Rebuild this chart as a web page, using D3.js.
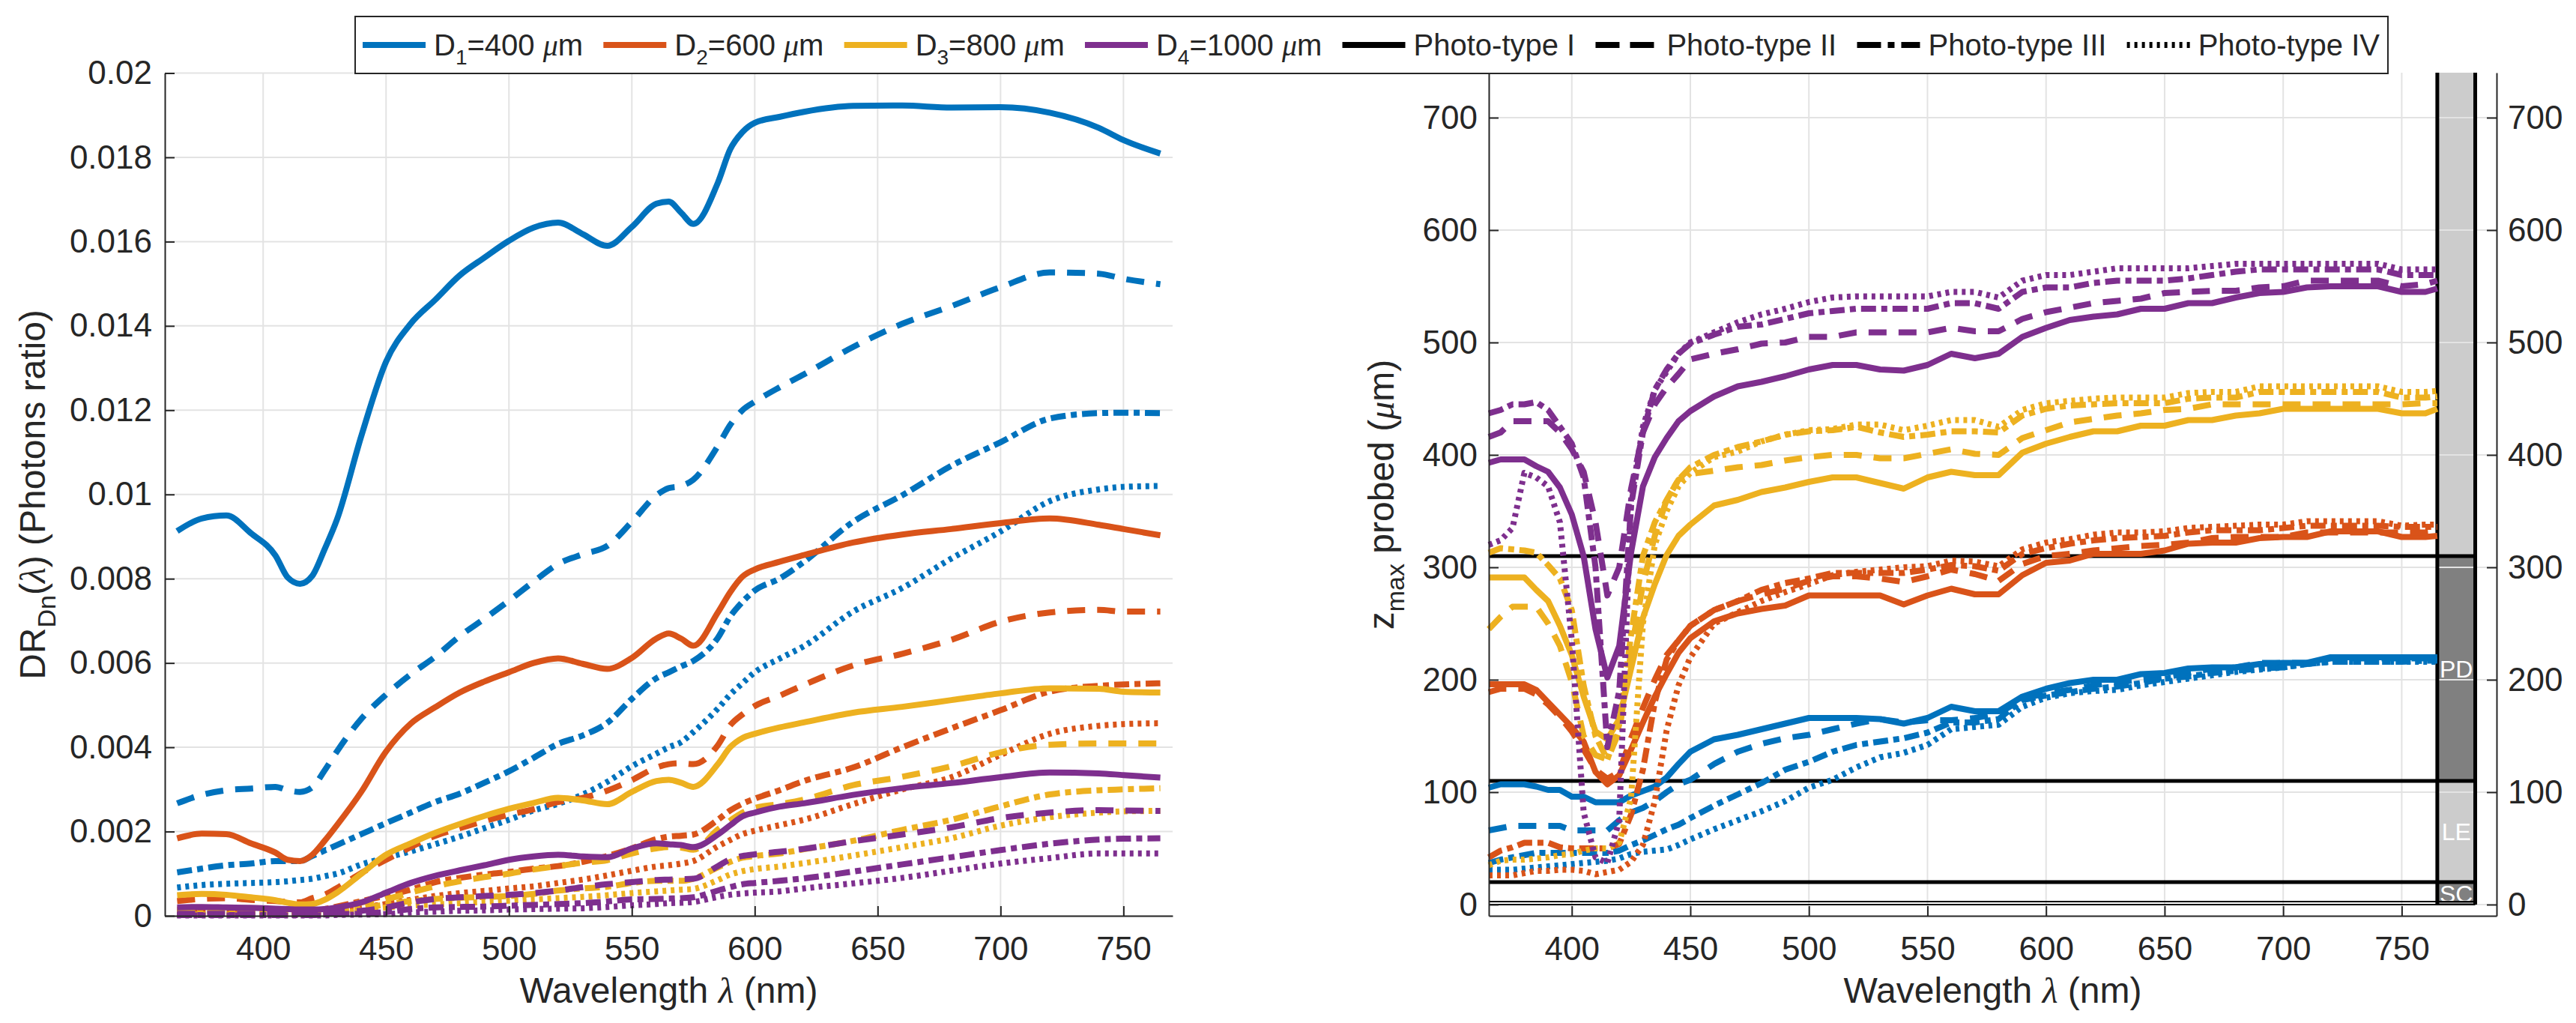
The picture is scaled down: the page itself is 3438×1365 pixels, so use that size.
<!DOCTYPE html>
<html><head><meta charset="utf-8">
<script src="https://cdn.jsdelivr.net/npm/d3@7"></script>
<style>
body{margin:0;background:#fff}
svg{display:block}
text{font-family:"Liberation Sans",Arial,Helvetica,sans-serif;fill:#262626}
</style>
</head><body>
<svg id="chart" width="3438" height="1365"></svg>
<script>
// ---------------- DATA ----------------
const xTicks = [400,450,500,550,600,650,700,750];
const yTicksL = [0,0.002,0.004,0.006,0.008,0.01,0.012,0.014,0.016,0.018,0.02];
const yTicksR = [0,100,200,300,400,500,600,700];
const diameters = [400,600,800,1000];
const photoTypes = ["Photo-type I","Photo-type II","Photo-type III","Photo-type IV"];
const zoneBounds = [0,20,110,310,740];
const zoneLabels = ["SC","LE","PD",""];

// wavelengths (nm), left panel
const WL_L = [365,375,385,395,405,410,415,420,425,430,440,450,460,470,480,490,500,510,520,530,540,550,560,565,570,575,585,590,595,600,610,620,640,660,680,700,720,740,750,765];
// DR_Dn(lambda), photon ratio
const drD1_I   = [.00913,.00943,.00950,.00908,.00855,.00803,.00788,.00807,.00870,.00940,.01140,.01315,.01405,.01462,.01520,.01562,.01602,.01633,.01645,.01618,.01590,.01635,.01690,.01695,.01669,.01642,.01740,.01819,.01860,.01882,.01896,.01908,.01922,.01923,.01918,.01919,.01906,.01870,.01841,.01809];
const drD1_II  = [.00267,.00287,.00298,.00302,.00306,.00298,.00294,.00305,.00345,.00390,.00468,.00525,.00573,.00615,.00664,.00705,.00748,.00793,.00835,.00858,.00878,.00935,.00998,.01015,.01020,.01035,.01115,.01165,.01200,.01220,.01254,.01285,.01350,.01405,.01447,.01492,.01527,.01524,.01512,.01499];
const drD1_III = [.00103,.00112,.00120,.00124,.00130,.00130,.00130,.00142,.00155,.00168,.00194,.00220,.00245,.00270,.00290,.00316,.00343,.00375,.00408,.00428,.00458,.00515,.00564,.00578,.00592,.00605,.00660,.00710,.00745,.00772,.00800,.00840,.00935,.00998,.01068,.01124,.01180,.01193,.01194,.01193];
const drD1_IV  = [.00067,.00073,.00076,.00078,.00080,.00082,.00085,.00088,.00094,.00100,.00122,.00138,.00153,.00170,.00188,.00208,.00228,.00250,.00266,.00288,.00318,.00355,.00385,.00400,.00412,.00436,.00492,.00525,.00552,.00578,.00610,.00640,.00722,.00778,.00848,.00912,.00984,.01012,.01018,.01020];
const drD2_I   = [.00184,.00195,.00194,.00172,.00150,.00133,.00130,.00145,.00178,.00215,.00295,.00390,.00456,.00495,.00530,.00556,.00578,.00600,.00611,.00598,.00586,.00612,.00658,.00670,.00658,.00641,.00720,.00768,.00805,.00822,.00840,.00856,.00886,.00905,.00918,.00932,.00943,.00928,.00918,.00903];
const drD2_II  = [.00035,.00040,.00042,.00038,.00035,.00033,.00032,.00042,.00050,.00066,.00102,.00133,.00163,.00190,.00208,.00225,.00240,.00253,.00270,.00280,.00297,.00322,.00352,.00360,.00362,.00360,.00405,.00452,.00478,.00498,.00522,.00548,.00594,.00622,.00655,.00698,.00720,.00726,.00722,.00722];
const drD2_III = [.00015,.00015,.00014,.00012,.00010,.00010,.00010,.00012,.00016,.00022,.00035,.00048,.00062,.00080,.00090,.00098,.00104,.00112,.00118,.00128,.00142,.00160,.00182,.00188,.00190,.00193,.00228,.00250,.00266,.00278,.00298,.00320,.00352,.00400,.00445,.00488,.00532,.00546,.00549,.00552];
const drD2_IV  = [.00008,.00008,.00008,.00007,.00006,.00006,.00006,.00008,.00010,.00013,.00020,.00028,.00038,.00047,.00054,.00059,.00065,.00070,.00078,.00086,.00096,.00107,.00117,.00120,.00124,.00130,.00165,.00180,.00194,.00202,.00215,.00228,.00265,.00300,.00329,.00382,.00432,.00451,.00455,.00457];
const drD3_I   = [.00049,.00052,.00050,.00044,.00037,.00031,.00027,.00028,.00038,.00055,.00100,.00145,.00172,.00197,.00218,.00237,.00254,.00268,.00280,.00274,.00265,.00294,.00320,.00323,.00316,.00306,.00360,.00400,.00422,.00432,.00447,.00459,.00482,.00496,.00512,.00528,.00540,.00539,.00532,.00530];
const drD3_II  = [.00012,.00012,.00011,.00010,.00008,.00007,.00007,.00008,.00012,.00018,.00032,.00040,.00055,.00070,.00082,.00092,.00100,.00110,.00118,.00126,.00132,.00148,.00160,.00163,.00162,.00157,.00205,.00226,.00245,.00256,.00265,.00276,.00310,.00330,.00355,.00388,.00406,.00409,.00409,.00409];
const drD3_III = [.00006,.00006,.00005,.00005,.00004,.00004,.00004,.00005,.00007,.00010,.00018,.00027,.00035,.00040,.00043,.00045,.00047,.00052,.00060,.00065,.00069,.00078,.00083,.00083,.00083,.00088,.00115,.00128,.00138,.00142,.00148,.00158,.00178,.00204,.00228,.00260,.00288,.00298,.00300,.00303];
const drD3_IV  = [.00003,.00003,.00003,.00003,.00003,.00003,.00003,.00004,.00005,.00006,.00013,.00020,.00024,.00027,.00030,.00033,.00036,.00039,.00042,.00045,.00049,.00054,.00058,.00060,.00062,.00064,.00085,.00098,.00106,.00111,.00117,.00125,.00143,.00163,.00184,.00214,.00234,.00245,.00248,.00249];
const drD4_I   = [.00020,.00021,.00020,.00019,.00017,.00016,.00015,.00015,.00016,.00020,.00032,.00055,.00078,.00095,.00108,.00120,.00133,.00141,.00145,.00141,.00139,.00160,.00172,.00170,.00168,.00163,.00193,.00215,.00236,.00245,.00259,.00267,.00287,.00303,.00315,.00329,.00340,.00338,.00334,.00328];
const drD4_II  = [.00005,.00005,.00005,.00005,.00005,.00005,.00005,.00005,.00006,.00008,.00012,.00020,.00032,.00040,.00044,.00047,.00050,.00054,.00060,.00068,.00075,.00080,.00085,.00086,.00087,.00088,.00118,.00134,.00142,.00146,.00152,.00159,.00177,.00193,.00210,.00232,.00245,.00251,.00250,.00249];
const drD4_III = [.00002,.00002,.00002,.00002,.00002,.00002,.00002,.00002,.00003,.00004,.00005,.00009,.00016,.00020,.00021,.00022,.00024,.00026,.00028,.00030,.00034,.00039,.00040,.00041,.00042,.00044,.00060,.00068,.00075,.00078,.00083,.00089,.00105,.00122,.00139,.00156,.00171,.00181,.00183,.00184];
const drD4_IV  = [.00001,.00001,.00001,.00001,.00001,.00001,.00001,.00001,.00001,.00002,.00003,.00004,.00008,.00010,.00012,.00013,.00015,.00016,.00017,.00018,.00021,.00025,.00028,.00030,.00031,.00033,.00045,.00050,.00053,.00055,.00058,.00065,.00077,.00090,.00107,.00124,.00137,.00148,.00148,.00148];

// wavelengths (nm), right panel
const WL_R = [365,370,375,380,385,390,395,400,405,410,415,420,425,430,435,440,445,450,460,470,480,490,500,510,520,530,540,550,560,570,580,590,600,610,620,630,640,650,660,670,680,690,700,710,720,730,740,750,760,765];
// z_max probed (um)
const zD1_I   = [104,107,107,107,105,102,102,96,96,91,91,91,97,101,105,113,125,136,147,151,156,161,166,166,166,165,161,166,176,172,172,185,192,197,200,200,205,206,210,211,211,214,215,215,220,220,220,220,220,220];
const zD1_II  = [66,68,70,70,70,70,70,66,66,66,66,75,82,86,92,100,107,111,125,136,143,148,151,156,161,165,162,164,164,166,170,183,188,191,195,198,200,202,206,210,211,215,215,215,219,219,219,219,219,219];
const zD1_III = [37,40,42,44,46,46,46,46,46,46,46,48,53,57,62,67,71,77,88,98,108,120,127,136,142,145,148,153,162,162,165,182,186,189,192,194,197,201,203,206,208,210,211,214,216,216,216,216,217,217];
const zD1_IV  = [31,31,31,32,33,34,35,36,37,38,39,41,45,47,48,49,53,58,67,75,83,92,104,111,122,131,135,142,156,158,160,176,184,188,190,191,195,198,201,204,207,209,211,214,216,216,216,216,216,216];
const zD2_I   = [196,196,196,196,191,180,169,158,145,118,107,115,138,162,185,205,224,237,252,259,263,266,275,275,275,275,267,275,281,276,276,293,304,306,312,312,312,315,321,322,322,326,327,327,332,332,332,327,327,328];
const zD2_II  = [189,192,192,192,187,178,167,154,138,120,112,118,148,175,200,222,235,248,262,270,276,281,288,292,292,290,287,292,298,294,288,303,310,312,315,317,319,320,322,326,327,327,327,331,331,331,331,331,331,332];
const zD2_III = [42,48,51,55,55,55,51,50,50,50,50,54,80,120,180,218,235,248,262,270,280,286,290,295,295,295,295,298,302,301,297,312,317,321,324,326,327,328,331,333,333,333,335,337,337,337,337,336,336,336];
const zD2_IV  = [26,26,26,28,30,30,31,31,30,27,29,31,38,53,92,155,195,220,250,260,270,278,285,293,296,298,300,301,306,305,301,316,322,325,329,331,331,332,335,336,337,338,338,341,341,341,341,337,338,338];
const zD3_I   = [291,291,291,291,280,270,248,222,185,154,147,165,210,255,285,311,328,338,355,360,367,371,376,380,380,375,370,380,385,382,382,402,410,416,421,421,426,426,431,431,435,437,441,441,441,441,441,437,437,441];
const zD3_II  = [245,256,265,265,265,250,230,198,150,133,129,154,225,285,328,360,378,383,386,389,391,395,398,400,400,397,397,401,405,401,400,415,422,429,432,435,437,440,441,445,445,445,445,445,445,445,445,445,446,446];
const zD3_III = [313,317,316,315,313,302,290,262,195,150,129,160,240,310,340,360,378,389,400,407,412,418,421,422,425,420,416,418,421,421,420,435,441,444,445,446,446,446,450,451,451,456,456,456,456,456,456,451,451,452];
const zD3_IV  = [35,39,40,40,41,42,44,45,48,50,50,55,95,250,320,350,372,384,398,403,412,418,422,423,427,427,422,426,431,431,425,440,446,448,450,451,451,451,455,456,456,461,461,461,461,461,461,456,456,457];
const zD4_I   = [393,396,396,396,390,385,371,347,310,245,202,230,313,372,398,415,430,439,452,461,465,470,476,480,480,476,475,480,490,486,490,505,513,520,523,525,530,530,535,535,540,544,545,549,550,550,550,545,545,548];
const zD4_II  = [416,420,430,430,430,430,420,405,385,340,275,300,370,420,445,460,472,485,490,494,499,500,505,505,509,509,509,509,513,510,510,521,527,531,535,537,539,544,545,546,546,549,550,555,555,555,555,550,552,555];
const zD4_III = [437,440,445,445,447,440,425,410,380,300,140,190,355,420,458,476,490,499,507,514,516,521,526,528,530,530,530,530,535,535,530,545,549,549,553,555,555,555,557,560,563,565,565,565,565,565,565,560,560,560];
const zD4_IV  = [320,324,335,384,380,372,340,235,82,42,37,75,360,425,458,474,490,500,509,518,525,530,536,540,541,541,541,541,545,545,540,555,560,560,563,566,566,566,566,568,570,570,570,570,570,570,570,565,565,565];

// ---------------- STYLE / LAYOUT ----------------
const COLORS = ["#0072BD","#D95319","#EDB120","#7E2F8E"];
const DASH = [null,"24,16","20,7,8,7","5,6"];
const LEG_DASH = [null,"32,14","32,9,9,9","4,6"];
const LW = 8;
const AX = "#262626", GRID = "#e3e3e3";
const TICK_FS = 44, LABEL_FS = 48, LEG_FS = 40;
const ZONE_FILL = ["#808080","#cccccc","#808080","#cccccc"];

const drSeries = [[drD1_I,drD1_II,drD1_III,drD1_IV],[drD2_I,drD2_II,drD2_III,drD2_IV],[drD3_I,drD3_II,drD3_III,drD3_IV],[drD4_I,drD4_II,drD4_III,drD4_IV]];
const zSeries  = [[zD1_I,zD1_II,zD1_III,zD1_IV],[zD2_I,zD2_II,zD2_III,zD2_IV],[zD3_I,zD3_II,zD3_III,zD3_IV],[zD4_I,zD4_II,zD4_III,zD4_IV]];

const svg = d3.select("#chart");

const xL = d3.scaleLinear().domain([360,770]).range([220,1565]);
const yL = d3.scaleLinear().domain([0,0.02]).range([1222,97.5]);
const xR = d3.scaleLinear().domain([365,790]).range([1987,3332]);
const yR = d3.scaleLinear().domain([-10,740]).range([1222,97]);

function grid(g, x, y, xt, yt){
  g.selectAll("line.gx").data(xt).join("line").attr("class","gx")
    .attr("x1",d=>x(d)).attr("x2",d=>x(d)).attr("y1",y.range()[0]).attr("y2",y.range()[1])
    .attr("stroke",GRID).attr("stroke-width",2);
  g.selectAll("line.gy").data(yt).join("line").attr("class","gy")
    .attr("y1",d=>y(d)).attr("y2",d=>y(d)).attr("x1",x.range()[0]).attr("x2",x.range()[1])
    .attr("stroke",GRID).attr("stroke-width",2);
}
function styleAxis(g){
  g.attr("font-size",null).attr("font-family",null);
  g.select(".domain").attr("stroke",AX).attr("stroke-width",2);
  g.selectAll(".tick line").attr("stroke",AX).attr("stroke-width",2);
  g.selectAll(".tick text").attr("fill",AX).style("font-size",TICK_FS+"px")
    .style("font-family",'"Liberation Sans",Arial,sans-serif');
}
function fmtL(d){ return d===0 ? "0" : String(d); }

// ---------- LEFT PANEL ----------
const gL = svg.append("g");
grid(gL.append("g"), xL, yL, xTicks, yTicksL);

const lineL = d3.line().x(d=>xL(d[0])).y(d=>yL(d[1])).curve(d3.curveMonotoneX);
const gCurvesL = gL.append("g");
drSeries.forEach((row,di)=>row.forEach((vals,pi)=>{
  const pts = WL_L.map((w,i)=>[w,vals[i]]).filter(p=>p[1]!==undefined);
  gCurvesL.append("path").attr("d",lineL(pts)).attr("fill","none")
    .attr("stroke",COLORS[di]).attr("stroke-width",LW)
    .attr("stroke-dasharray",DASH[pi]).attr("stroke-linejoin","round").attr("stroke-linecap","butt");
}));

const axLb = gL.append("g").attr("transform","translate(0,1222)")
  .call(d3.axisBottom(xL).tickValues(xTicks).tickSizeInner(-13).tickSizeOuter(0).tickPadding(28).tickFormat(d3.format("d")));
styleAxis(axLb);
const axLl = gL.append("g").attr("transform","translate(220,0)")
  .call(d3.axisLeft(yL).tickValues(yTicksL).tickSizeInner(-13).tickSizeOuter(0).tickPadding(17).tickFormat(fmtL));
styleAxis(axLl);

// ---------- RIGHT PANEL ----------
const gR = svg.append("g");
// layer strip
const zones = zoneBounds.slice(0,-1).map((b,i)=>({lo:b,hi:zoneBounds[i+1],label:zoneLabels[i],fill:ZONE_FILL[i]}));
gR.selectAll("rect.zone").data(zones).join("rect").attr("class","zone")
  .attr("x",xR(765)).attr("width",xR(781)-xR(765))
  .attr("y",d=>yR(d.hi)).attr("height",d=>yR(d.lo)-yR(d.hi)).attr("fill",d=>d.fill);
grid(gR.append("g"), xR, yR, xTicks, yTicksR);
gR.selectAll("text.zl").data(zones.filter(z=>z.label)).join("text").attr("class","zl")
  .attr("x",(xR(765)+xR(781))/2).attr("y",d=>yR((d.lo+d.hi)/2)).attr("dy","0.36em")
  .attr("text-anchor","middle").style("fill","#fff").style("font-size","32px").text(d=>d.label);
// boundary lines
const gB = gR.append("g");
[20,110,310].forEach(v=>gB.append("line").attr("x1",xR(365)).attr("x2",xR(781)).attr("y1",yR(v)).attr("y2",yR(v)).attr("stroke","#000").attr("stroke-width",5));
[0,2.7].forEach(v=>gB.append("line").attr("x1",xR(365)).attr("x2",xR(781)).attr("y1",yR(v)).attr("y2",yR(v)).attr("stroke","#000").attr("stroke-width",2));
[765,781].forEach(v=>gB.append("line").attr("x1",xR(v)).attr("x2",xR(v)).attr("y1",yR(0)).attr("y2",yR(740)).attr("stroke","#000").attr("stroke-width",5));

const lineR = d3.line().x(d=>xR(d[0])).y(d=>yR(d[1])).curve(d3.curveLinear);
const gCurvesR = gR.append("g");
zSeries.forEach((row,di)=>row.forEach((vals,pi)=>{
  const pts = WL_R.map((w,i)=>[w,vals[i]]).filter(p=>p[1]!==undefined);
  gCurvesR.append("path").attr("d",lineR(pts)).attr("fill","none")
    .attr("stroke",COLORS[di]).attr("stroke-width",LW)
    .attr("stroke-dasharray",DASH[pi]).attr("stroke-linejoin","round").attr("stroke-linecap","butt");
}));

const axRb = gR.append("g").attr("transform","translate(0,1222)")
  .call(d3.axisBottom(xR).tickValues(xTicks).tickSizeInner(-13).tickSizeOuter(0).tickPadding(28).tickFormat(d3.format("d")));
styleAxis(axRb);
const axRl = gR.append("g").attr("transform","translate(1987,0)")
  .call(d3.axisLeft(yR).tickValues(yTicksR).tickSizeInner(-13).tickSizeOuter(0).tickPadding(15).tickFormat(d3.format("d")));
styleAxis(axRl);
const axRr = gR.append("g").attr("transform","translate(3332,0)")
  .call(d3.axisRight(yR).tickValues(yTicksR).tickSizeInner(-13).tickSizeOuter(0).tickPadding(15).tickFormat(d3.format("d")));
styleAxis(axRr);

// ---------- AXIS LABELS ----------
function greek(t, ch){ t.append("tspan").style("font-family",'"Liberation Serif","DejaVu Serif",serif').style("font-style","italic").text(ch); }
function xlabel(cx){
  const t = svg.append("text").attr("x",cx).attr("y",1338).attr("text-anchor","middle").style("font-size",LABEL_FS+"px");
  t.append("tspan").text("Wavelength ");
  greek(t,"\u03bb");
  t.append("tspan").text(" (nm)");
}
xlabel((xL.range()[0]+xL.range()[1])/2);
xlabel((xR.range()[0]+xR.range()[1])/2);

const yl = svg.append("text").attr("transform","translate(60,660) rotate(-90)").attr("text-anchor","middle").style("font-size",LABEL_FS+"px");
yl.append("tspan").text("DR");
yl.append("tspan").attr("dy",14).style("font-size","34px").text("Dn");
yl.append("tspan").attr("dy",-14).text("(");
greek(yl,"\u03bb");
yl.append("tspan").text(") (Photons ratio)");

const yr = svg.append("text").attr("transform","translate(1860,660) rotate(-90)").attr("text-anchor","middle").style("font-size",LABEL_FS+"px");
yr.append("tspan").text("z");
yr.append("tspan").attr("dy",14).style("font-size","34px").text("max");
yr.append("tspan").attr("dy",-14).text(" probed (");
greek(yr,"\u03bc");
yr.append("tspan").text("m)");

// ---------- LEGEND ----------
const leg = svg.append("g");
leg.append("rect").attr("x",474).attr("y",22).attr("width",3187-474).attr("height",76)
  .attr("fill","#fff").attr("stroke",AX).attr("stroke-width",2);
const items = [];
diameters.forEach((d,i)=>items.push({color:COLORS[i],dash:null,kind:"D",n:i+1,val:d}));
photoTypes.forEach((p,i)=>items.push({color:"#000",dash:LEG_DASH[i],kind:"P",label:p}));
const LINE_LEN = 84, GAP = 11, CY = 60;
const texts = items.map(it=>{
  const t = leg.append("text").attr("y",CY).attr("dy","0.36em").style("font-size",LEG_FS+"px");
  if(it.kind==="D"){
    t.append("tspan").text("D");
    t.append("tspan").attr("dy",12).style("font-size","28px").text(it.n);
    t.append("tspan").attr("dy",-12).text("="+it.val+" ");
    greek(t,"\u03bc");
    t.append("tspan").text("m");
  } else t.text(it.label);
  return t;
});
const widths = texts.map(t=>t.node().getComputedTextLength());
const startX = 484, endX = 3176;
const used = d3.sum(widths) + items.length*(LINE_LEN+GAP);
const spacing = (endX-startX-used)/(items.length-1);
let x = startX;
items.forEach((it,i)=>{
  leg.append("line").attr("x1",x).attr("x2",x+LINE_LEN).attr("y1",CY).attr("y2",CY)
    .attr("stroke",it.color).attr("stroke-width",LW).attr("stroke-dasharray",it.dash);
  texts[i].attr("x",x+LINE_LEN+GAP);
  x += LINE_LEN+GAP+widths[i]+spacing;
});
</script>
</body></html>
